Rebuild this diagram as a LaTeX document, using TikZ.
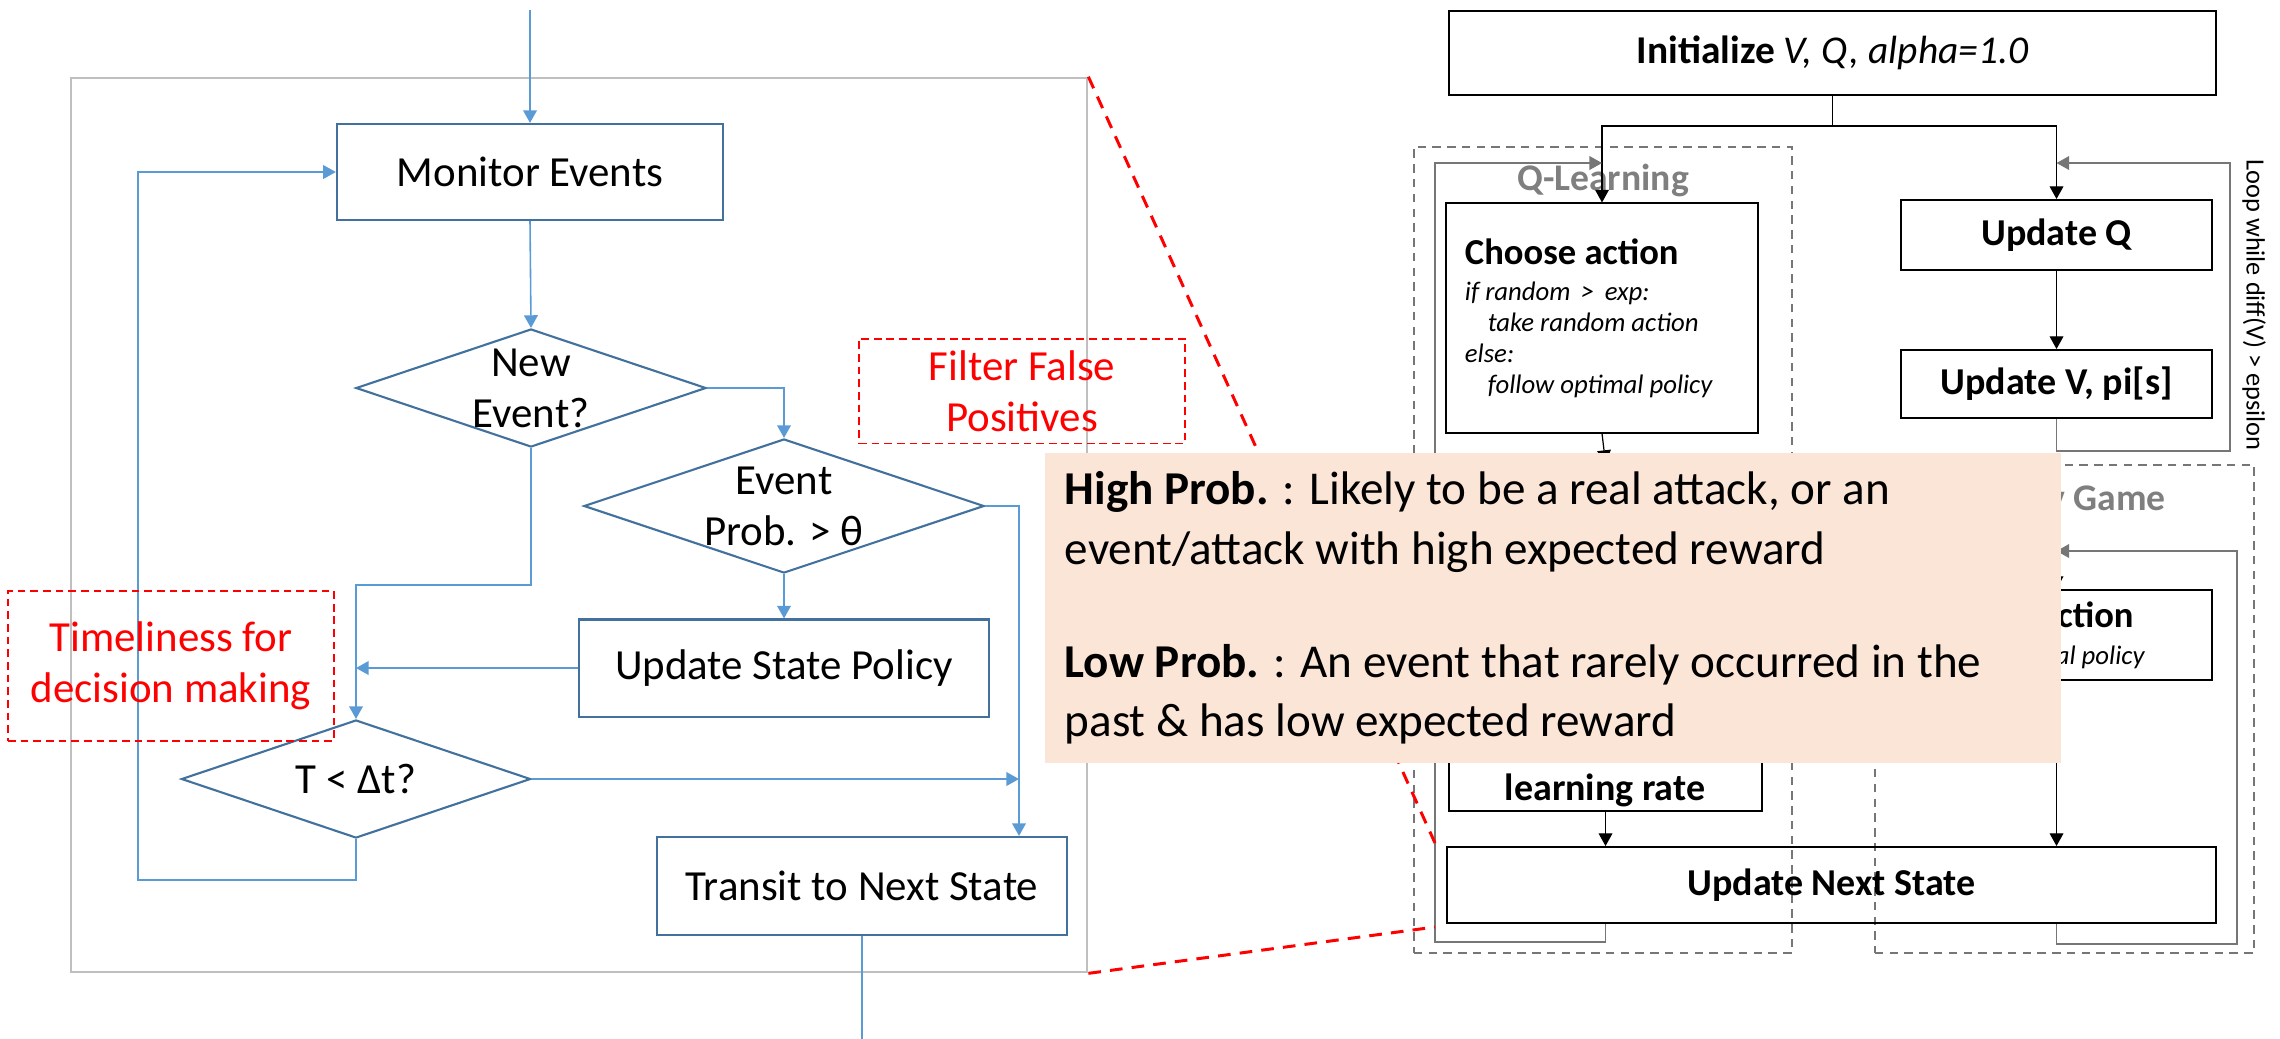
\documentclass[tikz,border=0pt]{standalone}
\usepackage{fontspec}
\setmainfont{Carlito}
\usetikzlibrary{arrows.meta,positioning,shapes.geometric}

\definecolor{flowblue}{HTML}{5B9BD5}
\definecolor{boxblue}{HTML}{41719C}
\definecolor{framegrey}{HTML}{BFBFBF}
\definecolor{loopgrey}{HTML}{767676}
\definecolor{labelgrey}{HTML}{7F7F7F}
\definecolor{notepeach}{HTML}{FBE5D6}

\begin{document}
\begin{tikzpicture}[
    x=0.01cm, y=-0.01cm, % pixel grid, y runs down
    >={Triangle[length=3.6pt, width=3.9pt]},
    flowtext/.style={font=\fontsize{12.2}{14.5}\selectfont, align=center},
    flowbox/.style={draw=boxblue, line width=0.6pt, flowtext},
    decision/.style={diamond, draw=boxblue, line width=0.6pt, inner sep=0pt},
    flowline/.style={flowblue, line width=0.45pt},
    remark/.style={draw=red, line width=0.45pt, dash pattern=on 2.2pt off 1.4pt, text=red, flowtext},
    zoomline/.style={red, line width=0.85pt, dash pattern=on 3.6pt off 2.6pt},
    algbox/.style={draw=black, line width=0.55pt},
    algtitle/.style={font=\bfseries\fontsize{10.8}{12}\selectfont},
    algline/.style={black, line width=0.35pt},
    loopline/.style={loopgrey, line width=0.5pt},
    groupbox/.style={draw=loopgrey, line width=0.5pt, dash pattern=on 2.4pt off 1.8pt},
    grouplabel/.style={text=labelgrey, font=\bfseries\fontsize{10.7}{12}\selectfont}
]
\useasboundingbox (0,0) rectangle (2280,1038);

% --- event handling flowchart (left) ---
\node[draw=framegrey, line width=0.6pt, minimum width=10.16cm, minimum height=8.94cm, inner sep=0pt] (frame) at (579,525) {};

\node[flowbox, minimum width=3.86cm, minimum height=0.96cm] (monitor) at (530,172) {Monitor Events};
\node[decision, minimum width=3.50cm, minimum height=1.18cm] (newev) at (531,388) {};
\node[flowtext] (newevtxt) at (newev) {New\\Event?};
\node[decision, minimum width=4.00cm, minimum height=1.34cm] (evprob) at (784,506) {};
\node[flowtext] (evprobtxt) at (evprob) {Event\\Prob. > θ};
\node[flowbox, minimum width=4.09cm, minimum height=0.97cm] (policy) at (784,668) {Update State Policy};
\node[decision, minimum width=3.49cm, minimum height=1.18cm] (tdelta) at (356,779) {};
\node[flowtext] (tdeltatxt) at (tdelta) {T < Δt?};
\node[flowbox, minimum width=4.09cm, minimum height=0.98cm] (transit) at (862,886) {Transit to Next State};

\coordinate (entry) at (530,10);
\coordinate (skip) at (1019,506);
\coordinate (exit) at (862,1060);

\draw[flowline,->] (entry) -- (monitor.north);
\draw[flowline,->] (monitor.south) -- (newev.north);
\draw[flowline,->] (newev.east) -| (evprob.north);
\draw[flowline,->] (newev.south) -- ++(0,137) -| (tdelta.north);
\draw[flowline,->] (evprob.south) -- (policy.north);
\draw[flowline,->] (policy.west) -- (policy.west -| tdelta.north);
\draw[flowline,->] (evprob.east) -- (skip) -- (skip |- transit.north);
\draw[flowline,->] (tdelta.east) -- (tdelta.east -| skip);
\draw[flowline,->] (tdelta.south) |- (138,880) |- (monitor.west);
\draw[flowline,->] (transit.south) -- (transit.south |- exit);

% red remarks
\node[remark, minimum width=3.26cm, minimum height=0.93cm] (filter) at (1022,391) {Filter False\\Positives};
\node[remark, minimum width=3.26cm, minimum height=1.50cm] (timely) at (171,666) {Timeliness for\\decision making};

% --- learning loop (right) ---
\node[algbox, minimum width=7.67cm, minimum height=0.84cm, font=\fontsize{11.2}{13}\selectfont] (init) at (1832.5,53) {\textbf{Initialize} \textit{V, Q, alpha=1.0}};

\node[groupbox, minimum width=3.78cm, minimum height=8.06cm] (qgroup) at (1603,550) {};
\node[grouplabel] (qlabel) at (1603,180) {Q-Learning};
\node[groupbox, minimum width=3.79cm, minimum height=4.88cm] (mgroup) at (2064.5,709) {};
\node[grouplabel, anchor=east] (mlabel) at (2178,497) {Markov Game};

\node[algbox, fill=white, minimum height=2.29cm, text width=2.74cm, inner xsep=0.19cm, align=flush left] (choose) at (1602,318)
  {\fontsize{10.4}{12}\selectfont\bfseries Choose action\par\vspace{1.6pt}
   \fontsize{7.6}{8.8}\selectfont\mdseries\itshape if random \,>\, exp:\par
   \hspace*{6.5pt}take random action\par
   else:\par
   \hspace*{6.5pt}follow optimal policy\par};
\node[algbox, fill=white, minimum width=3.13cm, minimum height=3.47cm] (lrate) at (1605.5,637.5) {};
\node[algtitle] (lratetxt) at (1605,790) {learning rate};

\node[algbox, fill=white, minimum width=3.11cm, minimum height=0.70cm, algtitle] (updq) at (2056.5,235) {Update Q};
\node[algbox, fill=white, minimum width=3.11cm, minimum height=0.68cm, algtitle] (updv) at (2056.5,384) {Update V, pi[s]};
\node[algbox, fill=white, minimum height=0.90cm, text width=2.73cm, inner xsep=0.19cm, align=flush left] (mchoose) at (2056.5,635)
  {\fontsize{10.4}{12}\selectfont\bfseries Choose action\par\vspace{1.6pt}
   \fontsize{7.6}{8.8}\selectfont\mdseries\itshape follow optimal policy\par};
\node[algbox, minimum width=7.69cm, minimum height=0.76cm, algtitle] (nextstate) at (1831.5,885) {Update Next State};

\node[rotate=-90, font=\fontsize{7.5}{9}\selectfont] (looptxt) at (2254,305) {Loop while diff(V) > epsilon};

\coordinate (qret) at (1435,163);
\coordinate (vret) at (2230,163);
\coordinate (mret) at (2237,551);

\draw[algline] (init.south) -- ++(0,30) coordinate (split);
\draw[algline,->] (split) -| (choose.north);
\draw[algline,->] (split) -| (updq.north);
\draw[algline,->] (updq.south) -- (updv.north);
\draw[algline,->] (choose.south) -- (lrate.north);
\draw[algline,->] (lrate.south) -- (lrate.south |- nextstate.north);
\draw[algline,->] (mret -| mchoose.north) -- (mchoose.north);
\draw[algline,->] (mchoose.south) -- (mchoose.south |- nextstate.north);

% loops back to the top of each column
\draw[loopline,->] (lrate.south |- nextstate.south) -- ++(0,18) -| (qret) -- (qret -| choose.north);
\draw[loopline,->] (updv.south) -- ++(0,32) -| (vret) -- (vret -| updq.north);
\draw[loopline,->] (mchoose.south |- nextstate.south) -- ++(0,20) -| (mret) -- (mret -| mchoose.north);

% zoom guides
\coordinate (zoomtop) at (1435,843);
\coordinate (zoombot) at (1435,927);
\draw[zoomline] (frame.north east) -- (zoomtop);
\draw[zoomline] (frame.south east) -- (zoombot);

% probability note on top
\node[fill=notepeach, minimum width=10.16cm, minimum height=3.10cm, text width=9.76cm, inner xsep=0.2cm, align=flush left,
      font=\fontsize{13.4}{17}\selectfont] (probnote) at (1553,608)
  {\textbf{High Prob.} : Likely to be a real attack, or an\\
   event/attack with high expected reward\\[15pt]
   \textbf{Low Prob.} : An event that rarely occurred in the\\
   past \& has low expected reward};

\end{tikzpicture}
\end{document}
